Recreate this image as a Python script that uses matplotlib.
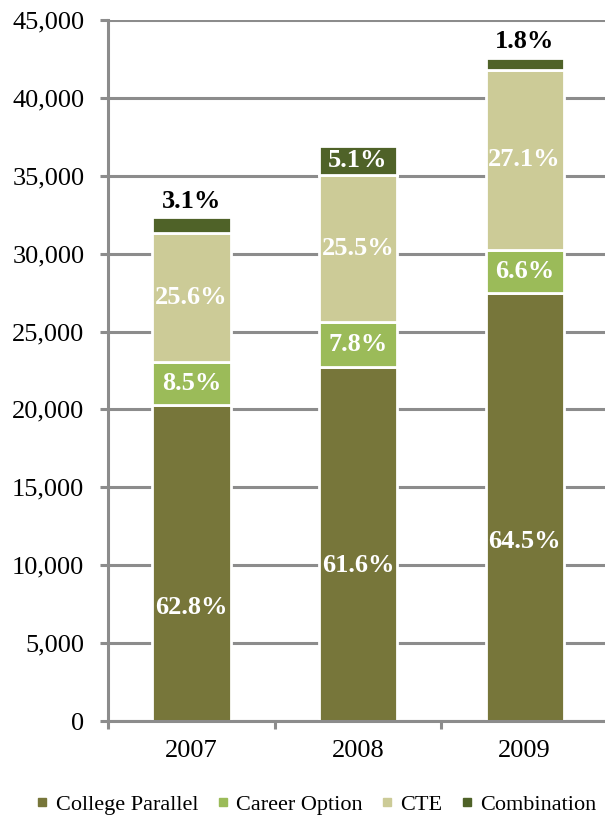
import matplotlib
matplotlib.use("Agg")
import matplotlib.pyplot as plt
from matplotlib.lines import Line2D
from matplotlib.ticker import FuncFormatter
import numpy as np

plt.rcParams['font.family'] = ['Liberation Serif', 'DejaVu Serif']

years = ["2007", "2008", "2009"]
series_names = ["College Parallel", "Career Option", "CTE", "Combination"]
college_parallel = [20300, 22750, 27450]
career_option = [2750, 2880, 2810]
cte = [8275, 9420, 11535]
combination = [1000, 1880, 765]
pct_college = ["62.8%", "61.6%", "64.5%"]
pct_career = ["8.5%", "7.8%", "6.6%"]
pct_cte = ["25.6%", "25.5%", "27.1%"]
pct_comb = ["3.1%", "5.1%", "1.8%"]
# where the college parallel label sits inside its segment (fraction of height)
cp_label_frac = [0.36, 0.44, 0.42]

colors = ["#77763A", "#9BBB59", "#CCCB97", "#4F6228"]
grid_col = "#8C8C8C"

fig = plt.figure(figsize=(6.05, 8.21), dpi=100)
ax = fig.add_axes([108/605, 1 - 721/821, 500/605, 701/821])

x = np.arange(len(years))
w = 0.47
series = [college_parallel, career_option, cte, combination]
bottom = np.zeros(len(years))
bottoms = []
for vals, c in zip(series, colors):
    bottoms.append(bottom.copy())
    ax.bar(x, vals, w, bottom=bottom, color=c, edgecolor="white", linewidth=2, zorder=3)
    bottom = bottom + np.array(vals)

lab = dict(ha="center", va="center", fontsize=19, fontweight="bold", zorder=5)
for i in range(len(years)):
    ax.text(x[i], college_parallel[i] * cp_label_frac[i], pct_college[i], color="white", **lab)
    ax.text(x[i], bottoms[1][i] + career_option[i] / 2, pct_career[i], color="white", **lab)
    ax.text(x[i], bottoms[2][i] + cte[i] / 2, pct_cte[i], color="white", **lab)
    if combination[i] > 1500:
        ax.text(x[i], bottoms[3][i] + combination[i] / 2, pct_comb[i], color="white", **lab)
    else:
        ax.text(x[i], bottom[i] + 1050, pct_comb[i], color="black", **lab)

ax.set_ylim(0, 45000)
ax.set_xlim(-0.5, 2.5)
ax.set_yticks(np.arange(0, 45001, 5000))
ax.yaxis.set_major_formatter(FuncFormatter(lambda v, p: f"{int(v):,}"))
ax.grid(axis="y", color=grid_col, linewidth=2.2, zorder=0)
ax.set_axisbelow(True)

ax.set_xticks(x)
ax.set_xticklabels(years)
ax.set_xticks([-0.5, 0.5, 1.5, 2.5], minor=True)
ax.tick_params(axis="x", which="major", length=0, pad=14, labelsize=19)
ax.tick_params(axis="x", which="minor", length=6, width=2.2, color=grid_col, direction="out")
ax.tick_params(axis="y", length=6, width=2.2, color=grid_col, pad=11, labelsize=19)

for s in ["top", "right"]:
    ax.spines[s].set_visible(False)
for s in ["left", "bottom"]:
    ax.spines[s].set_color(grid_col)
    ax.spines[s].set_linewidth(2.2)
    ax.spines[s].set_zorder(4)

handles = [Line2D([], [], marker="s", linestyle="none", color=c, markersize=6) for c in colors]
fig.legend(handles, series_names, loc="center", bbox_to_anchor=(316/605, 1 - 805/821),
           ncol=4, frameon=False, fontsize=16, handlelength=0.6, handletextpad=0.3,
           columnspacing=0.8)

fig.savefig("out.png", dpi=100)
